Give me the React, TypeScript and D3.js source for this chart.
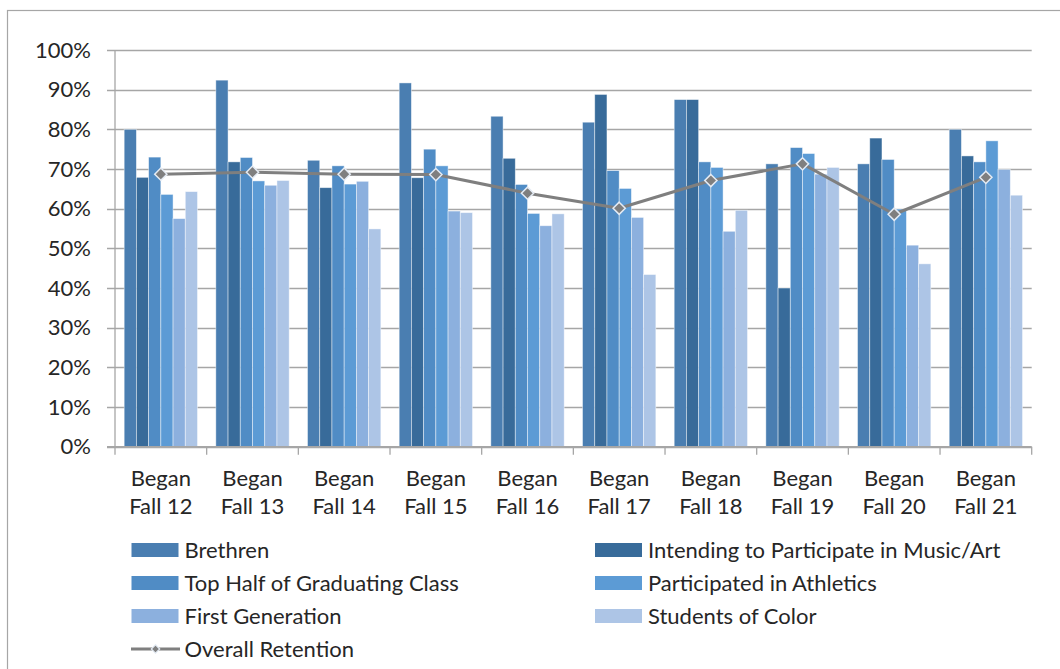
import React, { useEffect, useRef } from 'react';
import * as d3 from 'd3';

// retention rates (%) by entering cohort
const categories = ['Began Fall 12', 'Began Fall 13', 'Began Fall 14', 'Began Fall 15', 'Began Fall 16',
  'Began Fall 17', 'Began Fall 18', 'Began Fall 19', 'Began Fall 20', 'Began Fall 21'];

const brethren = [80.0, 92.4, 72.2, 91.7, 83.3, 81.8, 87.5, 71.3, 71.3, 80.0];
const musicArt = [67.9, 71.8, 65.3, 67.8, 72.7, 88.8, 87.5, 40.0, 77.8, 73.3];
const topHalf = [73.0, 72.9, 70.8, 75.0, 66.1, 69.6, 71.8, 75.4, 72.4, 71.8];
const athletics = [63.6, 67.0, 66.2, 70.8, 58.8, 65.1, 70.4, 73.9, 59.9, 77.1];
const firstGen = [57.5, 65.9, 66.9, 59.4, 55.7, 57.8, 54.3, 68.7, 50.8, 69.9];
const studentsOfColor = [64.3, 67.1, 54.9, 59.0, 58.7, 43.4, 59.6, 70.4, 46.1, 63.4];
const overall = [68.7, 69.2, 68.7, 68.6, 63.9, 60.1, 67.1, 71.3, 58.6, 67.9];

const seriesNames = ['Brethren', 'Intending to Participate in Music/Art', 'Top Half of Graduating Class',
  'Participated in Athletics', 'First Generation', 'Students of Color'];
const seriesColors = ['#4a7eb1', '#386b9a', '#508cc5', '#5c9bd5', '#8cb0de', '#adc5e6'];
const lineName = 'Overall Retention';

const yTicks = [0, 10, 20, 30, 40, 50, 60, 70, 80, 90, 100];

const W = 1060;
const H = 669;
const FONT = 'Lato, "Open Sans", sans-serif';
const FS = 22;

export default function App() {
  const ref = useRef<SVGSVGElement>(null);

  useEffect(() => {
    const svg = d3.select(ref.current);
    svg.selectAll('*').remove();

    const values = [brethren, musicArt, topHalf, athletics, firstGen, studentsOfColor];

    // plot area
    const left = 115, right = 1031.7, top = 50, bottom = 446.7;

    const x0 = d3.scaleBand<string>().domain(categories).range([left, right]);
    const x1 = d3.scaleBand<string>().domain(seriesNames).range([0, x0.bandwidth()]).paddingOuter(0.75);
    const y = d3.scaleLinear().domain([0, 100]).range([bottom, top]);

    // outer frame
    svg.append('rect')
      .attr('x', 7.5).attr('y', 10.5)
      .attr('width', W + 10).attr('height', H + 10)
      .attr('fill', '#fff').attr('stroke', '#a6a6a6').attr('stroke-width', 1.2);

    // gridlines (with tick stubs to the left)
    svg.append('g')
      .selectAll('line')
      .data(yTicks)
      .join('line')
      .attr('x1', 107).attr('x2', right)
      .attr('y1', d => Math.round(y(d)) + 0.5).attr('y2', d => Math.round(y(d)) + 0.5)
      .attr('stroke', '#a6a6a6').attr('stroke-width', 1.3);

    // y axis line
    svg.append('line')
      .attr('x1', left).attr('x2', left).attr('y1', top).attr('y2', bottom)
      .attr('stroke', '#a6a6a6').attr('stroke-width', 1.3);

    svg.append('g')
      .selectAll('text')
      .data(yTicks)
      .join('text')
      .attr('x', 91).attr('y', d => y(d))
      .attr('dy', '0.35em')
      .attr('text-anchor', 'end')
      .attr('font-family', FONT).attr('font-size', FS).attr('fill', '#262626')
      .text(d => `${d}%`);

    // bars
    values.forEach((vals, si) => {
      svg.append('g')
        .selectAll('rect')
        .data(vals)
        .join('rect')
        .attr('x', (d, i) => (x0(categories[i]) as number) + (x1(seriesNames[si]) as number))
        .attr('y', d => y(d))
        .attr('width', x1.bandwidth())
        .attr('height', d => bottom - y(d))
        .attr('fill', seriesColors[si])
        .attr('stroke', 'rgba(255,255,255,0.55)')
        .attr('stroke-width', 0.8);
    });

    // x axis line + ticks at category boundaries
    svg.append('line')
      .attr('x1', 107).attr('x2', right).attr('y1', bottom).attr('y2', bottom)
      .attr('stroke', '#a6a6a6').attr('stroke-width', 1.3);
    const bounds = categories.map(c => x0(c) as number).concat([right]);
    svg.append('g')
      .selectAll('line')
      .data(bounds)
      .join('line')
      .attr('x1', d => d).attr('x2', d => d)
      .attr('y1', bottom).attr('y2', bottom + 8)
      .attr('stroke', '#a6a6a6').attr('stroke-width', 1.3);

    // category labels (two lines)
    const cat = svg.append('g')
      .selectAll('text')
      .data(categories)
      .join('text')
      .attr('text-anchor', 'middle')
      .attr('font-family', FONT).attr('font-size', FS).attr('fill', '#262626');
    cat.append('tspan')
      .attr('x', d => (x0(d) as number) + x0.bandwidth() / 2)
      .attr('y', 486)
      .text(d => d.split(' ')[0]);
    cat.append('tspan')
      .attr('x', d => (x0(d) as number) + x0.bandwidth() / 2)
      .attr('y', 514)
      .text(d => d.split(' ').slice(1).join(' '));

    // overall retention line
    const cx = (i: number) => (x0(categories[i]) as number) + x0.bandwidth() / 2;
    const line = d3.line<number>().x((d, i) => cx(i)).y(d => y(d));
    svg.append('path')
      .datum(overall)
      .attr('d', line)
      .attr('fill', 'none')
      .attr('stroke', '#7f7f7f')
      .attr('stroke-width', 3)
      .attr('stroke-linejoin', 'round');

    const diamond = d3.symbol().type(d3.symbolDiamond2).size(95);
    svg.append('g')
      .selectAll('path')
      .data(overall)
      .join('path')
      .attr('d', diamond)
      .attr('transform', (d, i) => `translate(${cx(i)},${y(d)})`)
      .attr('fill', '#7f7f7f')
      .attr('stroke', '#e4ebf4')
      .attr('stroke-width', 1.5);

    // legend
    const legX = [131.5, 595];
    const legY = [550, 583, 616, 649];
    seriesNames.forEach((name, i) => {
      const lx = legX[i % 2];
      const ly = legY[Math.floor(i / 2)];
      svg.append('rect')
        .attr('x', lx).attr('y', ly - 7)
        .attr('width', 47).attr('height', 14)
        .attr('fill', seriesColors[i]);
      svg.append('text')
        .attr('x', lx + 53).attr('y', ly)
        .attr('dy', '0.35em')
        .attr('font-family', FONT).attr('font-size', FS).attr('fill', '#262626')
        .text(name);
    });
    const ly = legY[3];
    svg.append('line')
      .attr('x1', 131).attr('x2', 180).attr('y1', ly).attr('y2', ly)
      .attr('stroke', '#7f7f7f').attr('stroke-width', 3);
    svg.append('path')
      .attr('d', d3.symbol().type(d3.symbolDiamond2).size(45))
      .attr('transform', `translate(155.5,${ly})`)
      .attr('fill', '#7f7f7f').attr('stroke', '#e4ebf4').attr('stroke-width', 1.2);
    svg.append('text')
      .attr('x', 184.5).attr('y', ly)
      .attr('dy', '0.35em')
      .attr('font-family', FONT).attr('font-size', FS).attr('fill', '#262626')
      .text(lineName);
  }, []);

  return (
    <>
      <style>{'body{margin:0;overflow:hidden}'}</style>
      <svg ref={ref} width={W} height={H} style={{ display: 'block' }} />
    </>
  );
}
